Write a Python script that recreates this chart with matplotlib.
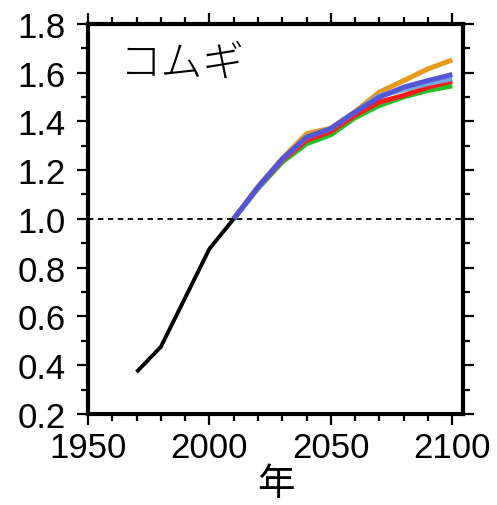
import numpy as np
import matplotlib.pyplot as plt
from matplotlib.ticker import MultipleLocator

plt.rcParams['font.family'] = ['Liberation Sans', 'Noto Sans CJK JP', 'DejaVu Sans']

# observed (black)
hist_years = [1970, 1980, 2000, 2010]
hist_vals = [0.372, 0.475, 0.877, 1.0]

# projections 2010-2100
proj_years = [2010, 2020, 2030, 2040, 2050, 2060, 2070, 2080, 2090, 2100]
green = [1.0, 1.125, 1.233, 1.308, 1.345, 1.415, 1.465, 1.50, 1.527, 1.545]
red = [1.0, 1.128, 1.240, 1.322, 1.358, 1.425, 1.479, 1.506, 1.540, 1.565]
orange = [1.0, 1.132, 1.248, 1.349, 1.372, 1.440, 1.520, 1.567, 1.615, 1.652]
lightblue = [1.0, 1.130, 1.245, 1.335, 1.370, 1.438, 1.505, 1.530, 1.555, 1.575]
blue = [1.0, 1.130, 1.245, 1.335, 1.370, 1.438, 1.499, 1.540, 1.567, 1.592]

series = [
    (green, "#22c22a"),
    (red, "#ff1a1a"),
    (orange, "#e59a1c"),
    (lightblue, "#74a8d8"),
    (blue, "#5454d6"),
]

fig = plt.figure(figsize=(4.97, 5.06), dpi=100)
ax = fig.add_axes([0.177, 0.180, 0.755, 0.771])

ax.axhline(1.0, color="black", lw=1.3, ls=(0, (3, 2.5)), zorder=1)
ax.plot(hist_years, hist_vals, color="black", lw=2.8, solid_capstyle="butt", zorder=3)
for vals, c in series:
    ax.plot(proj_years, vals, color=c, lw=3.6, solid_capstyle="butt", zorder=2)

ax.set_xlim(1950, 2104.5)
ax.set_ylim(0.2, 1.8)
ax.xaxis.set_major_locator(MultipleLocator(50))
ax.xaxis.set_minor_locator(MultipleLocator(10))
ax.yaxis.set_major_locator(MultipleLocator(0.2))
ax.yaxis.set_minor_locator(MultipleLocator(0.1))
ax.yaxis.set_major_formatter(lambda v, p: "%.1f" % v)

ax.tick_params(which="both", direction="out", top=True, right=True,
               labeltop=False, labelright=False, width=1.6, labelsize=25)
ax.tick_params(axis="x", which="major", pad=4)
ax.tick_params(axis="y", which="major", pad=8)
ax.tick_params(which="major", length=8)
ax.tick_params(which="minor", length=5)
for s in ax.spines.values():
    s.set_linewidth(3)

ax.set_xlabel("年", fontsize=27, labelpad=2)
ax.text(0.085, 0.955, "コムギ", transform=ax.transAxes, fontsize=30,
        va="top", ha="left", family=['Noto Sans CJK JP', 'DejaVu Sans'],
        fontweight="light")

plt.savefig("out.png", dpi=100)
